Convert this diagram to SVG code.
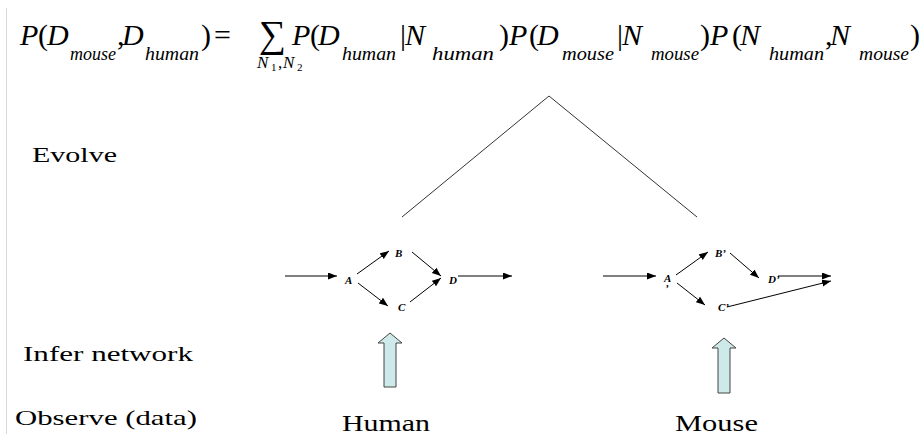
<svg xmlns="http://www.w3.org/2000/svg" width="924" height="434" viewBox="0 0 924 434">
<style>
.m{font-family:"Liberation Serif","Times New Roman",serif;font-style:italic;font-size:30px;fill:#000}
.u{font-family:"Liberation Serif","Times New Roman",serif;font-size:30px;fill:#000}
.s{font-family:"Liberation Serif","Times New Roman",serif;font-style:italic;font-size:19px;fill:#000}
.lbl{font-family:"Liberation Serif","Times New Roman",serif;font-size:22px;fill:#000}
.nd{font-family:"Liberation Serif","Times New Roman",serif;font-style:italic;font-weight:bold;font-size:11px;fill:#000}
.ar{stroke:#000;stroke-width:1;fill:none;marker-end:url(#ah)}
.blk{fill:#cde9e9;stroke:#444;stroke-width:1}
</style>
<defs>
<marker id="ah" markerUnits="userSpaceOnUse" markerWidth="10" markerHeight="8" refX="9" refY="3.5" orient="auto">
<path d="M0,0 L9,3.5 L0,7 z" fill="#000"/>
</marker>
</defs>
<rect width="924" height="434" fill="#fff"/>
<line x1="6.5" y1="8" x2="6.5" y2="434" stroke="#d8d8d8" stroke-width="1"/>

<g id="formula">
<text class="m" x="20" y="45">P</text>
<text class="u" x="38" y="45">(</text>
<text class="m" x="47" y="45">D</text>
<text class="s" x="70" y="60" textLength="46" lengthAdjust="spacingAndGlyphs">mouse</text>
<text class="u" x="117" y="45">,</text>
<text class="m" x="122" y="45">D</text>
<text class="s" x="145" y="60" textLength="54" lengthAdjust="spacingAndGlyphs">human</text>
<text class="u" x="201" y="45">)</text>
<text class="u" x="214" y="45">=</text>
<text class="u" x="259" y="47" style="font-size:38px">∑</text>
<text class="m" x="257" y="68" style="font-size:17px">N</text>
<text class="s" x="271" y="71" style="font-size:11px;font-style:normal">1</text>
<text class="u" x="278" y="68" style="font-size:17px">,</text>
<text class="m" x="283" y="68" style="font-size:17px">N</text>
<text class="s" x="297" y="71" style="font-size:11px;font-style:normal">2</text>
<text class="m" x="292" y="45">P</text>
<text class="u" x="310" y="45">(</text>
<text class="m" x="318" y="45">D</text>
<text class="s" x="342" y="60" textLength="54" lengthAdjust="spacingAndGlyphs">human</text>
<text class="u" x="400" y="45">|</text>
<text class="m" x="405" y="45">N</text>
<text class="s" x="432" y="60" textLength="62" lengthAdjust="spacingAndGlyphs">human</text>
<text class="u" x="499" y="45">)</text>
<text class="m" x="509" y="45">P</text>
<text class="u" x="529" y="45">(</text>
<text class="m" x="537" y="45">D</text>
<text class="s" x="562" y="60" textLength="52" lengthAdjust="spacingAndGlyphs">mouse</text>
<text class="u" x="617" y="45">|</text>
<text class="m" x="622" y="45">N</text>
<text class="s" x="651" y="60" textLength="48" lengthAdjust="spacingAndGlyphs">mouse</text>
<text class="u" x="700" y="45">)</text>
<text class="m" x="710" y="45">P</text>
<text class="u" x="732" y="45">(</text>
<text class="m" x="740" y="45">N</text>
<text class="s" x="769" y="60" textLength="55" lengthAdjust="spacingAndGlyphs">human</text>
<text class="u" x="825" y="45">,</text>
<text class="m" x="830" y="45">N</text>
<text class="s" x="859" y="60" textLength="50" lengthAdjust="spacingAndGlyphs">mouse</text>
<text class="u" x="910" y="45">)</text>
</g>

<g id="labels">
<text class="lbl" x="32" y="162" textLength="85" lengthAdjust="spacingAndGlyphs">Evolve</text>
<text class="lbl" x="23" y="361" textLength="170" lengthAdjust="spacingAndGlyphs">Infer network</text>
<text class="lbl" x="15" y="425" textLength="182" lengthAdjust="spacingAndGlyphs">Observe (data)</text>
<text class="lbl" x="342" y="431" style="font-size:23px" textLength="88" lengthAdjust="spacingAndGlyphs">Human</text>
<text class="lbl" x="675" y="431" style="font-size:23px" textLength="83" lengthAdjust="spacingAndGlyphs">Mouse</text>
</g>

<g id="tree">
<polyline points="402,217 549,96 697,217" fill="none" stroke="#333" stroke-width="1"/>
</g>

<g id="human-net">
<g id="hA"><text class="nd" x="345" y="284">A</text></g>
<g id="hB"><text class="nd" x="395" y="257">B</text></g>
<g id="hC"><text class="nd" x="398" y="311">C</text></g>
<g id="hD"><text class="nd" x="449" y="284">D</text></g>
</g>

<g id="mouse-net">
<g id="mA"><text class="nd" x="664" y="282">A</text><text class="nd" x="665" y="292">’</text></g>
<g id="mB"><text class="nd" x="715" y="257">B’</text></g>
<g id="mC"><text class="nd" x="718" y="311">C’</text></g>
<g id="mD"><text class="nd" x="768" y="283">D’</text></g>
</g>

<g id="connectors">
<line class="ar" x1="285" y1="276" x2="337" y2="276"/>
<line class="ar" x1="357" y1="274" x2="389" y2="251"/>
<line class="ar" x1="412" y1="252" x2="441" y2="276"/>
<line class="ar" x1="358" y1="283" x2="388" y2="306"/>
<line class="ar" x1="410" y1="302" x2="441" y2="278"/>
<line class="ar" x1="458" y1="276" x2="512" y2="276"/>

<line class="ar" x1="603" y1="276" x2="656" y2="276"/>
<line class="ar" x1="676" y1="275" x2="708" y2="252"/>
<line class="ar" x1="730" y1="253" x2="759" y2="278"/>
<line class="ar" x1="677" y1="283" x2="705" y2="305"/>
<line class="ar" x1="778" y1="276" x2="831" y2="276"/>
<line class="ar" x1="727" y1="307" x2="831" y2="281"/>
</g>

<g id="infer-arrows">
<polygon class="blk" points="390,333 402,343 396,343 396,387 384,387 384,343 378,343"/>
<polygon class="blk" points="724,338 736,348 730,348 730,393 718,393 718,348 712,348"/>
</g>
</svg>
